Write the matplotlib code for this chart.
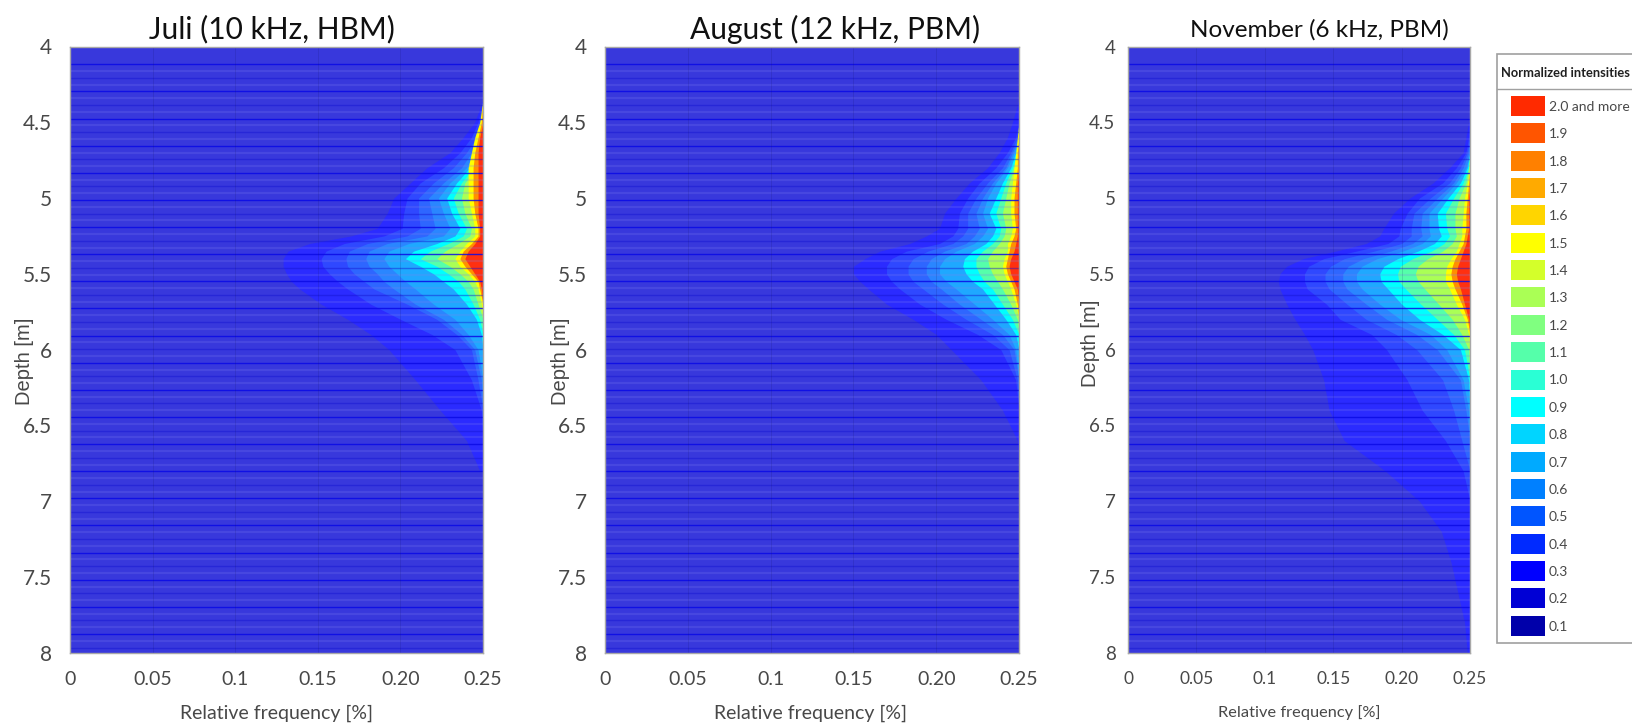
"""Depth profiles of normalized intensities, three campaigns side by side."""
import numpy as np
import matplotlib
matplotlib.use('Agg')
import matplotlib.pyplot as plt
from matplotlib.patches import Rectangle

W, H = 1632, 726
FONT = ['Lato', 'Liberation Sans', 'DejaVu Sans']
WIDE = ['Liberation Sans', 'DejaVu Sans']
GREY = '#484848'

titles = ['Juli (10 kHz, HBM)', 'August (12 kHz, PBM)', 'November (6 kHz, PBM)']
x_ticks = [0, 0.05, 0.1, 0.15, 0.2, 0.25]
x_labels = ['0', '0.05', '0.1', '0.15', '0.20', '0.25']
y_ticks = [4, 4.5, 5, 5.5, 6, 6.5, 7, 7.5, 8]
y_labels = ['4', '4.5', '5', '5.5', '6', '6.5', '7', '7.5', '8']

legend_labels = ['2.0 and more', '1.9', '1.8', '1.7', '1.6', '1.5', '1.4', '1.3', '1.2', '1.1',
                 '1.0', '0.9', '0.8', '0.7', '0.6', '0.5', '0.4', '0.3', '0.2', '0.1']
legend_colors = ['#ff2a00', '#ff5500', '#ff8000', '#ffaa00', '#ffd500', '#ffff00', '#d4ff2a',
                 '#aaff55', '#80ff80', '#55ffaa', '#2affd5', '#00ffff', '#00d5ff', '#00aaff',
                 '#0080ff', '#0055ff', '#002aff', '#0000ff', '#0000d5', '#0000aa']

# contour levels that are traced in the tables below
levels = [0.3, 0.4, 0.5, 0.6, 0.7, 0.9, 1.1, 1.3, 1.5, 1.7, 1.9]
level_colors = ['#2b2bff', '#2f48ff', '#2e66ff', '#2a86ff', '#1fa8ff', '#00ffff', '#55ffaa',
                '#aaff55', '#ffff00', '#ff9000', '#ff3010']

# left edge (relative frequency) of each level at each depth; rows that stop
# early have reached the right border of the axes
juli_depth = [4.35, 4.5, 4.6, 4.7, 4.8, 4.9, 5.0, 5.1, 5.2, 5.25, 5.3, 5.35, 5.4, 5.45, 5.5,
              5.55, 5.6, 5.7, 5.8, 5.9, 6.0, 6.2, 6.4, 6.6, 6.8]
juli_edges = [
    [.25, .245, .238, .230, .216, .206, .196, .192, .186, .170, .145, .132, .129, .129, .131,
     .134, .139, .152, .168, .182, .193, .209, .224, .240, .248],
    [.25, .247, .243, .236, .226, .212, .204, .202, .201, .190, .166, .155, .152, .153, .157,
     .162, .168, .182, .200, .219, .233, .243, .249],
    [.25, .25, .246, .240, .232, .220, .211, .211, .212, .204, .180, .169, .167, .168, .172,
     .178, .184, .204, .222, .234, .243, .247],
    [.25, .25, .248, .243, .237, .226, .217, .219, .221, .216, .192, .181, .179, .181, .186,
     .190, .196, .209, .226, .237, .245, .249],
    [.25, .25, .249, .245, .240, .230, .223, .226, .230, .226, .205, .193, .190, .193, .198,
     .203, .209, .220, .233, .241, .247],
    [.25, .25, .25, .247, .242, .234, .228, .231, .236, .233, .222, .208, .203, .212, .220,
     .226, .232, .240, .246, .249],
    [.25, .25, .25, .248, .244, .237, .232, .235, .240, .238, .229, .218, .212, .222, .229,
     .235, .239, .244, .248],
    [.25, .25, .25, .249, .246, .239, .237, .239, .243, .242, .235, .227, .222, .230, .236,
     .241, .244, .247],
    [.25, .248, .245, .243, .241, .241, .241, .243, .245, .245, .240, .236, .233, .236, .241,
     .245, .247, .249],
    [.25, .249, .247, .245, .244, .244, .244, .245, .247, .247, .243, .238, .236, .239, .243,
     .247, .248],
    [.25, .25, .248, .247, .247, .247, .247, .247, .248, .248, .245, .241, .239, .242, .245,
     .248, .249],
]

august_depth = juli_depth
august_edges = [
    [.25, .246, .243, .238, .231, .220, .212, .205, .202, .194, .184, .166, .157, .150, .150,
     .154, .159, .170, .186, .200, .209, .227, .240, .249],
    [.25, .25, .248, .243, .236, .226, .219, .214, .213, .210, .202, .182, .173, .170, .170,
     .173, .178, .190, .206, .225, .239, .248],
    [.25, .25, .249, .245, .240, .231, .224, .219, .219, .216, .210, .195, .186, .183, .183,
     .186, .192, .204, .218, .234, .244, .249],
    [.25, .25, .25, .246, .242, .234, .228, .224, .226, .223, .218, .205, .197, .194, .194,
     .197, .203, .214, .227, .240, .247],
    [.25, .25, .25, .247, .243, .236, .231, .228, .231, .228, .223, .212, .205, .202, .202,
     .206, .212, .223, .234, .244, .248],
    [.25, .25, .25, .248, .245, .240, .236, .232, .236, .234, .230, .222, .217, .216, .218,
     .222, .228, .235, .242, .248],
    [.25, .25, .25, .249, .246, .242, .239, .236, .239, .238, .234, .228, .224, .224, .226,
     .229, .234, .240, .246],
    [.25, .25, .25, .249, .247, .244, .242, .240, .242, .241, .238, .234, .231, .232, .234,
     .237, .240, .245, .249],
    [.25, .25, .249, .248, .247, .246, .245, .245, .246, .245, .243, .243, .241, .240, .241,
     .243, .245, .248],
    [.25, .25, .25, .249, .249, .248, .247, .247, .248, .247, .245, .244, .243, .242, .243,
     .245, .247, .249],
    [.25, .25, .25, .25, .25, .249, .249, .249, .249, .249, .248, .247, .245, .244, .245,
     .247, .249],
]

november_depth = [4.5, 4.6, 4.7, 4.8, 4.9, 5.0, 5.1, 5.2, 5.25, 5.3, 5.35, 5.4, 5.45, 5.5, 5.55,
                  5.6, 5.7, 5.8, 5.9, 6.0, 6.2, 6.4, 6.6, 6.8, 7.0, 7.2, 7.4, 7.6, 7.8, 8.0]
november_edges = [
    [.249, .247, .245, .235, .223, .206, .194, .187, .184, .174, .152, .128, .116, .111, .110,
     .111, .116, .122, .129, .135, .143, .147, .158, .188, .213, .229, .236, .241, .246, .248],
    [.25, .249, .247, .240, .230, .213, .204, .199, .198, .190, .167, .143, .132, .129, .129,
     .131, .145, .155, .178, .189, .204, .215, .232, .245],
    [.25, .25, .248, .243, .235, .221, .209, .207, .207, .200, .180, .158, .148, .144, .144,
     .147, .160, .174, .196, .211, .230, .238, .244],
    [.25, .25, .249, .245, .238, .226, .215, .214, .215, .208, .192, .172, .161, .157, .157,
     .160, .174, .189, .211, .226, .243, .247],
    [.25, .25, .25, .247, .240, .230, .220, .220, .221, .215, .201, .182, .171, .167, .167,
     .171, .184, .199, .221, .233, .245, .249],
    [.25, .25, .25, .248, .243, .234, .226, .227, .229, .224, .212, .197, .187, .184, .185,
     .190, .200, .213, .230, .243, .249],
    [.25, .25, .25, .249, .245, .238, .232, .233, .235, .231, .222, .208, .199, .197, .198,
     .203, .214, .226, .238, .246],
    [.25, .25, .25, .249, .247, .242, .239, .239, .240, .237, .230, .219, .212, .210, .212,
     .217, .227, .237, .244, .249],
    [.25, .25, .25, .25, .248, .246, .245, .244, .244, .242, .240, .236, .233, .232, .232,
     .235, .240, .246, .249],
    [.25, .25, .25, .25, .249, .248, .247, .247, .246, .245, .242, .239, .237, .236, .237,
     .239, .244, .248],
    [.25, .25, .25, .25, .25, .249, .249, .249, .248, .247, .245, .243, .241, .240, .241,
     .243, .246, .249],
]


def px_axes(fig, x0, x1, y0=46.5, y1=652.7):
    return fig.add_axes([x0 / W, 1 - y1 / H, (x1 - x0) / W, (y1 - y0) / H])


def panel(ax, depth, edges, tick_size, y_pad):
    ax.set_facecolor('#3838dc')
    for row, color in zip(edges, level_colors):
        full = np.array(row + [0.25] * (len(depth) - len(row)))
        ax.fill_betweenx(depth, full, 0.25, color=color, lw=0, zorder=1)

    # banding of the rendered surface, it repeats every 0.179 m
    for d in np.arange(4.1175, 8, 0.179):
        ax.axhline(d, color='#0a0ae6', lw=1.0, alpha=0.85, zorder=2)
        ax.axhline(d + 0.09, color='#1414d2', lw=1.0, alpha=0.45, zorder=2)
        ax.axhline(d + 0.045, color='#8080f0', lw=1.6, alpha=0.22, zorder=2)
        ax.axhline(d + 0.135, color='#8080f0', lw=1.6, alpha=0.22, zorder=2)
    for x in x_ticks[1:-1]:
        ax.axvline(x, color='#101060', lw=0.7, alpha=0.15, zorder=2)

    ax.set_xlim(0, 0.25)
    ax.set_ylim(8, 4)
    ax.set_xticks(x_ticks)
    ax.set_xticklabels(x_labels, family=FONT, fontsize=tick_size, color=GREY)
    ax.set_yticks(y_ticks)
    ax.set_yticklabels(y_labels, family=FONT, fontsize=tick_size + 1, color=GREY)
    ax.tick_params(axis='x', length=0, pad=13)
    ax.tick_params(axis='y', length=0, pad=y_pad)
    for s in ax.spines.values():
        s.set_color('#a8a8a8')
        s.set_linewidth(1)


fig = plt.figure(figsize=(W / 100, H / 100), dpi=100)

ax1 = px_axes(fig, 70, 483)
ax2 = px_axes(fig, 605, 1019)
ax3 = px_axes(fig, 1128, 1470)
panel(ax1, juli_depth, juli_edges, 14, 13)
panel(ax2, august_depth, august_edges, 14, 13)
panel(ax3, november_depth, november_edges, 12.5, 9)


def label(x, y, s, **kw):
    fig.text(x / W, 1 - y / H, s, ha='center', va='center', **kw)


label(272, 29, titles[0], family=FONT, fontsize=21.5, color='#101010')
label(835, 29, titles[1], family=FONT, fontsize=21.5, color='#101010')
label(1319, 30, titles[2], family=FONT, fontsize=17.5, color='#101010')

label(276, 713, 'Relative frequency [%]', family=FONT, fontsize=14, color=GREY)
label(811, 713, 'Relative frequency [%]', family=FONT, fontsize=14, color=GREY)
label(1299, 713, 'Relative frequency [%]', family=FONT, fontsize=11.8, color=GREY)

label(24, 361, 'Depth [m]', family=WIDE, fontsize=14.5, color=GREY, rotation=90)
label(560, 361, 'Depth [m]', family=WIDE, fontsize=14.5, color=GREY, rotation=90)
label(1090, 343, 'Depth [m]', family=WIDE, fontsize=14.5, color=GREY, rotation=90)

# legend box, drawn in pixel coordinates
lg = fig.add_axes([0, 0, 1, 1], facecolor='none')
lg.set_xlim(0, W)
lg.set_ylim(H, 0)
lg.axis('off')
lg.add_patch(Rectangle((1497, 54), 140, 589, fc='white', ec='#a0a0a0', lw=1.2, clip_on=True))
lg.plot([1497, 1632], [89, 89], color='#a0a0a0', lw=1)
lg.text(1565, 73, 'Normalized intensities', ha='center', va='center', family=FONT,
        fontsize=9.3, fontweight='bold', color='#202020')
for i, (name, color) in enumerate(zip(legend_labels, legend_colors)):
    top = 96 + i * 27.35
    lg.add_patch(Rectangle((1511, top), 34, 20, fc=color, ec='none'))
    lg.text(1549, top + 11, name, ha='left', va='center', family=FONT,
            fontsize=10, color=GREY)

fig.savefig('out.png', dpi=100)
